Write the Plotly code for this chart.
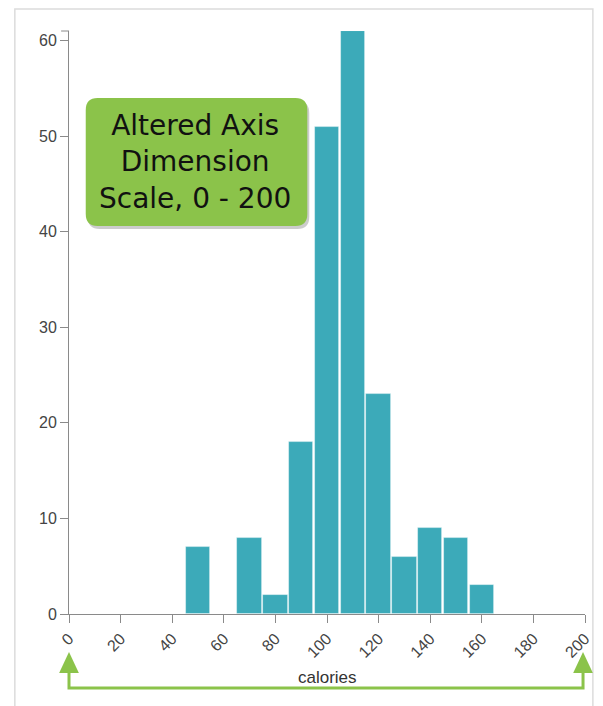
import plotly.graph_objects as go

# ---- data ----
calorie_bins = [50, 60, 70, 80, 90, 100, 110, 120, 130, 140, 150, 160]
counts = [7, 0, 8, 2, 18, 51, 61, 23, 6, 9, 8, 3]
x_ticks = [0, 20, 40, 60, 80, 100, 120, 140, 160, 180, 200]
y_ticks = [0, 10, 20, 30, 40, 50, 60]
x_title = "calories"
note_lines = ["Altered Axis", "Dimension", "Scale, 0 - 200"]

# ---- layout geometry (window pixels; body margin removed below) ----
W, H = 603, 706
L, R, T, B = 69, 10, 31, 92
PW, PH = W - L - R, H - T - B


def px(x):
    return (x - L) / PW


def py(y):
    return (H - B - y) / PH


def rounded_rect(x0, y0, x1, y1, r):
    return (
        f"M {px(x0 + r)},{py(y0)} L {px(x1 - r)},{py(y0)} "
        f"Q {px(x1)},{py(y0)} {px(x1)},{py(y0 + r)} "
        f"L {px(x1)},{py(y1 - r)} Q {px(x1)},{py(y1)} {px(x1 - r)},{py(y1)} "
        f"L {px(x0 + r)},{py(y1)} Q {px(x0)},{py(y1)} {px(x0)},{py(y1 - r)} "
        f"L {px(x0)},{py(y0 + r)} Q {px(x0)},{py(y0)} {px(x0 + r)},{py(y0)} Z"
    )


def tri(cx, tip, base, half):
    return (f"M {px(cx)},{py(tip)} L {px(cx + half)},{py(base)} "
            f"L {px(cx - half)},{py(base)} Z")


BAR = "#3CAAB9"
GREEN = "#8BC34A"
AXIS = "#8a8a8a"
FONT = "Liberation Sans, Arial, sans-serif"

fig = go.Figure()
fig.add_trace(go.Bar(
    x=calorie_bins, y=counts, width=9.4,
    marker=dict(color=BAR, line=dict(color="rgba(255,255,255,0.5)", width=0.8)),
    hoverinfo="x+y",
))

shapes = [
    # outer frame
    dict(type="rect", xref="paper", yref="paper", x0=px(14), y0=py(9),
         x1=px(601), y1=py(730), line=dict(color="#dcdcdc", width=1.5),
         layer="below"),
    # y-axis outer top tick
    dict(type="line", xref="paper", yref="paper", x0=px(61), x1=px(69),
         y0=py(31), y1=py(31), line=dict(color=AXIS, width=1)),
    # annotation box shadow
    dict(type="path", xref="paper", yref="paper",
         path=rounded_rect(88, 101, 313, 229, 12),
         fillcolor="rgba(0,0,0,0.20)", line=dict(width=0)),
    # annotation box
    dict(type="path", xref="paper", yref="paper",
         path=rounded_rect(86, 98, 311, 226, 12),
         fillcolor=GREEN, line=dict(width=0)),
    # bracket
    dict(type="path", xref="paper", yref="paper",
         path=(f"M {px(69)},{py(670)} L {px(69)},{py(688)} "
               f"L {px(591)},{py(688)} L {px(591)},{py(670)}"),
         line=dict(color=GREEN, width=3)),
    dict(type="path", xref="paper", yref="paper", path=tri(69, 652, 673, 10),
         fillcolor=GREEN, line=dict(width=0)),
    dict(type="path", xref="paper", yref="paper", path=tri(591, 652, 673, 10),
         fillcolor=GREEN, line=dict(width=0)),
]

annotations = [
    dict(xref="paper", yref="paper", x=px(197), y=py(162),
         text="<br>".join(note_lines), showarrow=False,
         font=dict(family="DejaVu Sans, sans-serif", size=28, color="#111"),
         align="center", xanchor="center", yanchor="middle"),
    dict(xref="paper", yref="paper", x=px(331), y=py(677), text=x_title,
         showarrow=False, font=dict(family=FONT, size=17, color="#333"),
         xanchor="center", yanchor="middle"),
]

fig.update_layout(
    width=W, height=H,
    margin=dict(l=L, r=R, t=T, b=B),
    paper_bgcolor="white", plot_bgcolor="white",
    showlegend=False,
    bargap=0,
    font=dict(family=FONT, size=16, color="#444"),
    shapes=shapes, annotations=annotations,
    xaxis=dict(range=[0, 200], tickvals=x_ticks, tickangle=-45,
               showline=True, linecolor=AXIS, linewidth=1,
               ticks="outside", ticklen=8, tickcolor=AXIS,
               showgrid=False, zeroline=False, fixedrange=True,
               tickfont=dict(size=16, color="#444")),
    yaxis=dict(range=[0, 61], tickvals=y_ticks,
               showline=True, linecolor=AXIS, linewidth=1,
               ticks="outside", ticklen=8, tickcolor=AXIS,
               showgrid=False, zeroline=False, fixedrange=True,
               tickfont=dict(size=16, color="#444")),
)

fig.write_html(
    "out.html",
    config={"responsive": False, "displayModeBar": False},
    post_script="document.body.style.margin='0';"
                "document.body.style.overflow='hidden';",
)
